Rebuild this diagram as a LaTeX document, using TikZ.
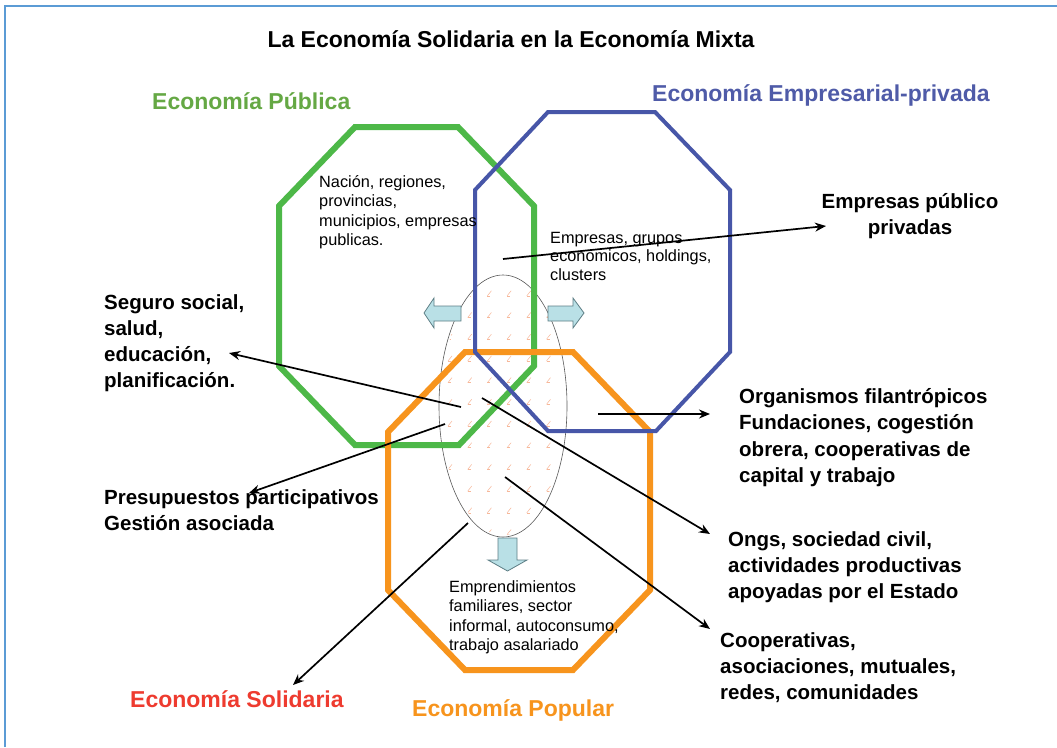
\documentclass[tikz,border=0pt]{standalone}
\usepackage{fontspec}
\setmainfont{Liberation Sans}
\usetikzlibrary{arrows.meta}
\definecolor{framecol}{HTML}{5B9BD5}
\definecolor{grn}{HTML}{4DB848}
\definecolor{grntxt}{HTML}{65A844}
\definecolor{blu}{HTML}{4756A8}
\definecolor{blutxt}{HTML}{4F5BA8}
\definecolor{org}{HTML}{F7941D}
\definecolor{redtxt}{HTML}{EE3B2F}
\definecolor{cyanfill}{HTML}{B9E0E6}
\definecolor{cyanline}{HTML}{5E7F86}
\definecolor{markcol}{HTML}{F7B89A}
\newcommand\lftlines[2]{\vtop{\baselineskip=#1\relax\lineskiplimit=-30pt\halign{##\hfil\cr#2\crcr}}}
\newcommand\ctrlines[2]{\vtop{\baselineskip=#1\relax\lineskiplimit=-30pt\halign{\hfil##\hfil\cr#2\crcr}}}
\tikzset{
  lbl/.style={font=\bfseries\fontsize{20.5}{26}\selectfont, inner sep=0pt, anchor=base west},
  smalltxt/.style={font=\fontsize{16.3}{19.5}\selectfont, inner sep=0pt, anchor=base west},
  econ/.style={font=\bfseries\fontsize{23}{27}\selectfont, inner sep=0pt, anchor=base west},
  ptr/.style={draw=black, line width=1.7pt, -{Stealth[length=11pt,width=9pt]}},
  octg/.style={line width=6pt, line join=miter},
  blockarrow/.style={fill=cyanfill, draw=cyanline, line width=0.8pt, line join=miter},
}
\begin{document}
\begin{tikzpicture}[x=1pt,y=-1pt]
\useasboundingbox (0,0) rectangle (1057,747);
\fill[white] (0,0) rectangle (1057,747);
% frame
\draw[framecol, line width=1.6pt] (5,747) -- (5,6) -- (1057,6);

% ellipse with pattern
\begin{scope}
  \clip (503,406) ellipse [x radius=62, y radius=129];
  \foreach \i in {0,...,8}{
    \foreach \j in {0,...,13}{
      \draw[markcol, line width=0.5pt] ({430.3+19.7*\i-2},{271.6+21.7*\j+2.5}) -- ({430.3+19.7*\i+2},{271.6+21.7*\j-2.5});
      \draw[markcol, line width=0.5pt] ({430.3+19.7*\i-2},{271.6+21.7*\j+2.5}) -- ({430.3+19.7*\i+1},{271.6+21.7*\j+2.5});
    }
  }
\end{scope}
\draw[black!65, line width=0.6pt] (503,406) ellipse [x radius=64, y radius=131];

% octagons
\draw[grn, octg] (355,127) -- (458,127) -- (534,206) -- (534,366) -- (459,445) -- (355,445) -- (279,366) -- (279,206) -- cycle;
\draw[org, octg] (465,352) -- (573,352) -- (650,432) -- (650,590) -- (573,670) -- (465,670) -- (388,590) -- (388,432) -- cycle;
\draw[blu, line width=4pt, line join=miter] (548,112) -- (655,112) -- (730,190) -- (730,352) -- (656,431) -- (548,431) -- (475,352) -- (475,190) -- cycle;

% block arrows
\draw[blockarrow] (461,306) -- (434,306) -- (434,298) -- (424,313) -- (434,328) -- (434,321) -- (461,321) -- cycle;
\draw[blockarrow] (548,306) -- (573,306) -- (573,298) -- (584,313) -- (573,328) -- (573,321) -- (548,321) -- cycle;
\draw[blockarrow] (498,538) -- (517,538) -- (517,560) -- (527,560) -- (507.5,571) -- (488,560) -- (498,560) -- cycle;

% titles
\node[font=\bfseries\fontsize{23}{27}\selectfont, inner sep=0pt, anchor=base] (title) at (511,47) {La Economía Solidaria en la Economía Mixta};
\node[econ, text=grntxt] (publica) at (152,109) {Economía Pública};
\node[econ, text=blutxt] (empresarial) at (652,101) {Economía Empresarial-privada};
\node[econ, text=redtxt] (solidaria) at (130,707) {Economía Solidaria};
\node[econ, text=org] (popular) at (412,716) {Economía Popular};

% inner texts
\node[smalltxt] (nacion) at (319,187) {\lftlines{19.5pt}{Nación, regiones,\cr provincias,\cr municipios, empresas\cr publicas.}};
\node[smalltxt] (grupos) at (550,243) {\lftlines{18.7pt}{Empresas, grupos\cr economicos, holdings,\cr clusters}};
\node[smalltxt] (emprend) at (449,592) {\lftlines{19.5pt}{Emprendimientos\cr familiares, sector\cr informal, autoconsumo,\cr trabajo asalariado}};

% outer labels
\node[lbl, anchor=base] (pubpriv) at (910,208) {\ctrlines{26pt}{Empresas público\cr privadas}};
\node[lbl] (seguro) at (104,309) {\lftlines{26.3pt}{Seguro social,\cr salud,\cr educación,\cr planificación.}};
\node[lbl] (presup) at (104,504) {\lftlines{26.5pt}{Presupuestos participativos\cr Gestión asociada}};
\node[lbl] (organismos) at (739,403) {\lftlines{26.5pt}{Organismos filantrópicos\cr Fundaciones, cogestión\cr obrera, cooperativas de\cr capital y trabajo}};
\node[lbl] (ongs) at (728,546) {\lftlines{26pt}{Ongs, sociedad civil,\cr actividades productivas\cr apoyadas por el Estado}};
\node[lbl] (coop) at (720,647) {\lftlines{26pt}{Cooperativas,\cr asociaciones, mutuales,\cr redes, comunidades}};

% connector ends
\coordinate (s1) at (503,259);  \coordinate (e1) at (826,226);
\coordinate (s2) at (461,407);  \coordinate (e2) at (229,353);
\coordinate (s3) at (445,424);  \coordinate (e3) at (249,493);
\coordinate (s4) at (482,398);  \coordinate (e4) at (710,534);
\coordinate (s5) at (505,477);  \coordinate (e5) at (710,629);
\coordinate (s6) at (598,414);  \coordinate (e6) at (710,414);
\coordinate (s7) at (468,523);  \coordinate (e7) at (293,685);

\draw[ptr] (s1) -- (e1);
\draw[ptr] (s2) -- (e2);
\draw[ptr] (s3) -- (e3);
\draw[ptr] (s4) -- (e4);
\draw[ptr] (s5) -- (e5);
\draw[ptr] (s6) -- (e6);
\draw[ptr] (s7) -- (e7);
\end{tikzpicture}
\end{document}
